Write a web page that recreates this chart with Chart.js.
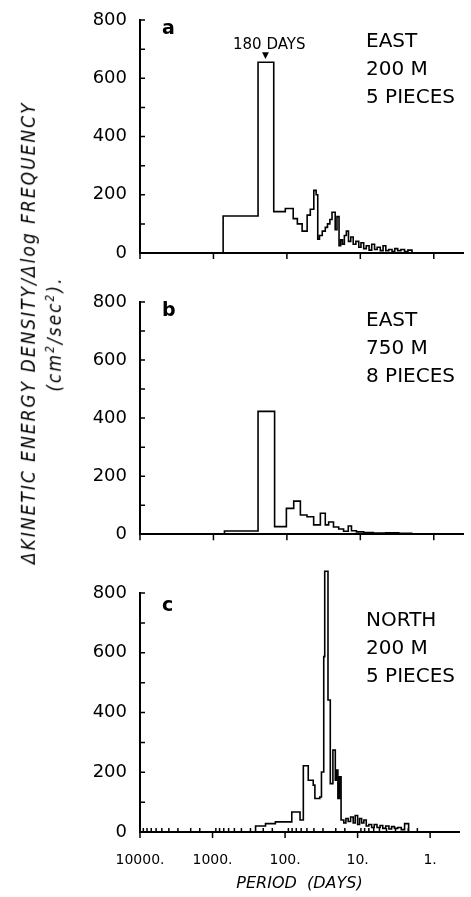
<!DOCTYPE html>
<html>
<head>
<meta charset="utf-8">
<script src="https://cdn.jsdelivr.net/npm/chart.js@4.4.1/dist/chart.umd.min.js"></script>
<style>
  body { margin: 0; background: #fff; }
  #wrap { position: relative; width: 471px; height: 897px; overflow: hidden; background: #fff; }
  #wrap canvas { position: absolute; left: 0; }
  .txt { position: absolute; font-family: 'DejaVu Sans', sans-serif; color: #000; white-space: nowrap; }
  .station { font-size: 20px; line-height: 28px; }
  .letter { font-weight: bold; font-size: 19px; }
  .ytitle { font-family: 'DejaVu Sans Condensed', 'DejaVu Sans', sans-serif; font-style: italic; font-size: 19px;
            letter-spacing: 2px; transform: rotate(-90deg); transform-origin: center center;
            text-align: center; line-height: 22px; }
</style>
</head>
<body>
<div id="wrap">
  <canvas id="chart-a" width="471" height="270" style="top:0px"></canvas>
  <canvas id="chart-b" width="471" height="270" style="top:280px"></canvas>
  <canvas id="chart-c" width="471" height="347" style="top:550px"></canvas>

  <div class="txt letter" style="left:162px; top:16px;">a</div>
  <div class="txt letter" style="left:162px; top:298px;">b</div>
  <div class="txt letter" style="left:162px; top:593px;">c</div>

  <div class="txt station" style="left:366px; top:26px;">EAST<br>200 M<br>5 PIECES</div>
  <div class="txt station" style="left:366px; top:305px;">EAST<br>750 M<br>8 PIECES</div>
  <div class="txt station" style="left:366px; top:605px;">NORTH<br>200 M<br>5 PIECES</div>

  <div class="txt" style="left:233px; top:35px; font-size:15px;">180 DAYS</div>
  <div class="txt" style="left:262px; top:50px; font-size:9px;">&#9660;</div>

  <div class="txt ytitle" style="left:-189px; top:310px; width:460px;">
    &Delta;KINETIC ENERGY DENSITY/&Delta;log FREQUENCY<br>(cm<sup style="font-size:12px">2</sup>/sec<sup style="font-size:12px">2</sup>).
  </div>
</div>

<script>
// Panel a: EAST 200 M, 5 pieces (step left edges in days, energy density)
const periodsA = [10000, 738, 247, 151, 105, 82, 72, 62, 53, 48, 43, 40, 38, 36, 33, 30, 28, 26, 24.3, 22, 20.8,
                  19.5, 18.5, 17.5, 16.5, 15.5, 14.5, 13.5, 12.5, 11.5, 10.5, 9.8, 9.0, 8.3, 7.6, 7.0, 6.4, 5.9,
                  5.35, 4.9, 4.5, 4.1, 3.7, 3.4, 3.1, 2.8, 2.5, 2.25, 1.98];
const energyA  = [0, 127, 655, 142, 153, 118, 100, 75, 130, 150, 215, 200, 47, 60, 75, 88, 100, 115, 140, 80, 125,
                  25, 45, 30, 60, 75, 40, 55, 30, 40, 20, 35, 15, 25, 10, 30, 12, 20,
                  8, 25, 8, 12, 5, 15, 8, 12, 5, 10, 0];

// Panel b: EAST 750 M, 8 pieces
const periodsB = [10000, 708, 247, 147, 101.6, 80.7, 65.5, 53.2, 43.2, 35, 30, 27, 23.2, 19.7, 16.9, 14.6, 13.2,
                  11.3, 9, 6.7, 4.5, 3, 2.0];
const energyB  = [0, 11, 423, 26, 89, 114, 66, 60, 32, 72, 32, 42, 25, 18, 10, 28, 12,
                  8, 6, 4, 5, 3, 0];

// Panel c: NORTH 200 M, 5 pieces
const periodsC = [10000, 255, 186, 136, 80.8, 62.2, 56, 47.9, 40.9, 38.8, 33.2, 31.5, 29.3, 28.4, 25.6, 23.8, 21.9,
                  20.3, 19.7, 18.7, 17.8, 16.9, 15.5, 14.5, 13.5, 12.5, 11.5, 10.8, 10, 9.4, 8.8, 8.2, 7.6, 7,
                  6.4, 5.9, 5.4, 4.9, 4.5, 4.1, 3.7, 3.4, 3.1, 2.8, 2.5, 2.25, 1.98];
const energyC  = [0, 20, 28, 34, 67, 40, 222, 173, 157, 112, 117, 201, 587, 873, 442, 162, 274,
                  173, 207, 112, 185, 40, 30, 45, 35, 50, 30, 55, 25, 45, 30, 40, 20, 25,
                  15, 25, 15, 22, 12, 20, 10, 18, 12, 15, 8, 28, 0];

const decadeLabels = [10000, 1000, 100, 10, 1];
const yTicks = [0, 100, 200, 300, 400, 500, 600, 700, 800];

Chart.defaults.font.family = "'DejaVu Sans', sans-serif";
Chart.defaults.color = '#000';

// small inward/outward tick marks drawn from the scales
const tickMarks = {
    id: 'tickMarks',
    afterDraw(chart, args, opts) {
        const ctx = chart.ctx;
        const xs = chart.scales.x, ys = chart.scales.y;
        const area = chart.chartArea;
        ctx.save();
        ctx.strokeStyle = '#000';
        ctx.lineWidth = 1.5;
        ctx.beginPath();
        yTicks.forEach(v => {
            const py = ys.getPixelForValue(v);
            ctx.moveTo(area.left, py);
            ctx.lineTo(area.left + 5, py);
        });
        xs.ticks.forEach(t => {
            const px = xs.getPixelForValue(t.value);
            if (decadeLabels.includes(t.value)) {
                ctx.moveTo(px, area.bottom);
                ctx.lineTo(px, area.bottom + 6);
            } else if (opts.minor && t.value > 1) {
                ctx.moveTo(px, area.bottom);
                ctx.lineTo(px, area.bottom - 4);
            }
        });
        ctx.stroke();
        ctx.restore();
    }
};

function makePanel(id, periods, energy, opts) {
    const canvas = document.getElementById(id);
    const points = periods.map((p, i) => ({ x: p, y: energy[i] }));
    return new Chart(canvas, {
        type: 'line',
        data: {
            datasets: [{
                data: points,
                stepped: true,
                borderColor: '#000',
                borderWidth: 1.6,
                pointRadius: 0,
                fill: false,
                clip: false
            }]
        },
        options: {
            responsive: false,
            animation: false,
            events: [],
            layout: { padding: { top: opts.top, right: 8, left: 0, bottom: 0 } },
            plugins: {
                legend: { display: false },
                tooltip: { enabled: false },
                tickMarks: { minor: opts.minor }
            },
            scales: {
                x: {
                    type: 'logarithmic',
                    min: 0.4,
                    max: 10000,
                    reverse: true,
                    afterFit: s => { s.height = opts.xHeight; },
                    grid: { display: false },
                    border: { display: true, color: '#000', width: 2 },
                    ticks: {
                        display: opts.labels,
                        autoSkip: false,
                        maxRotation: 0,
                        padding: 12,
                        font: { size: 14 },
                        callback: v => decadeLabels.includes(v) ? v + '.' : ''
                    },
                    title: {
                        display: opts.labels,
                        text: 'PERIOD  (DAYS)',
                        font: { size: 16, style: 'italic' },
                        padding: { top: 4 }
                    }
                },
                y: {
                    min: 0,
                    max: 800,
                    afterFit: s => { s.width = 140; },
                    afterBuildTicks: s => { s.ticks = yTicks.map(v => ({ value: v })); },
                    grid: { display: false },
                    border: { display: true, color: '#000', width: 2 },
                    ticks: {
                        autoSkip: false,
                        padding: 5,
                        font: { size: 18 },
                        callback: v => (v % 200 === 0 ? v : '')
                    }
                }
            }
        },
        plugins: [tickMarks]
    });
}

makePanel('chart-a', periodsA, energyA, { top: 20, xHeight: 17, labels: false, minor: false });
makePanel('chart-b', periodsB, energyB, { top: 22, xHeight: 15, labels: false, minor: false });
makePanel('chart-c', periodsC, energyC, { top: 43, xHeight: 65, labels: true, minor: true });
</script>
</body>
</html>
